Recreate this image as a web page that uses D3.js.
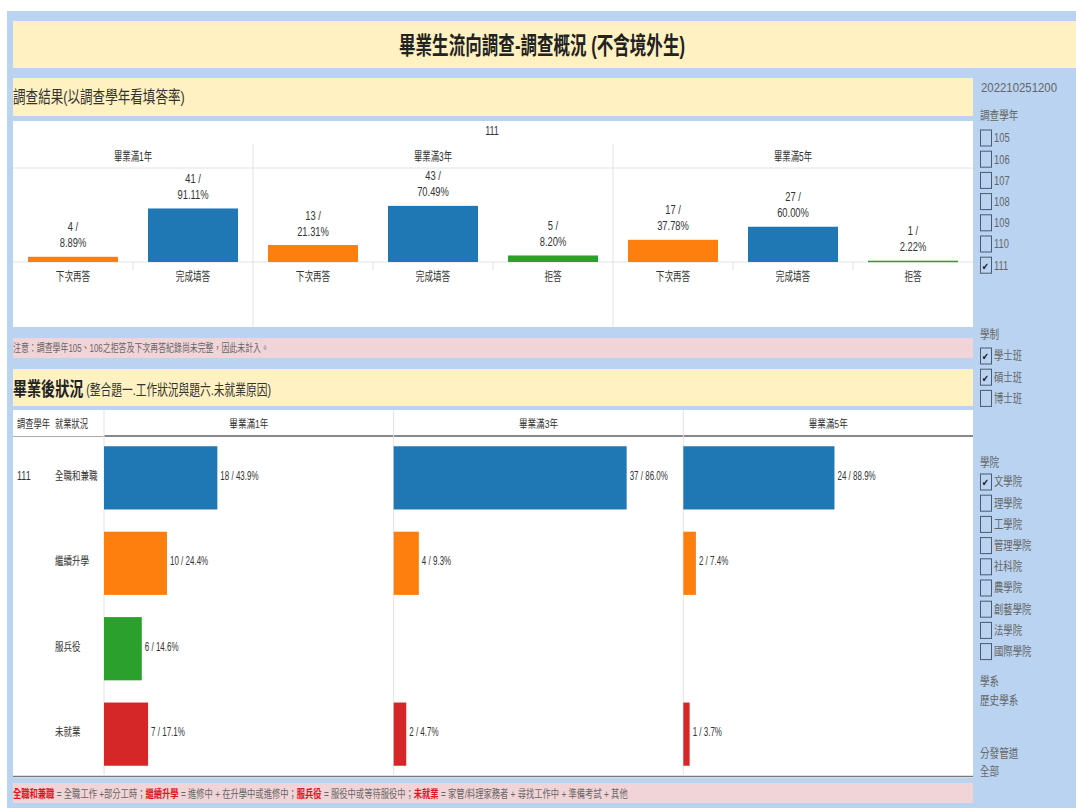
<!DOCTYPE html>
<html><head><meta charset="utf-8">
<script src="https://cdn.jsdelivr.net/npm/d3@7"></script>
<style>body{margin:0;background:#fff}svg{display:block}</style>
</head><body><div id="chart"></div>
<script>
// ---------- data ----------
const pageTitle = "畢業生流向調查-調查概況 (不含境外生)";
const section1Title = "調查結果(以調查學年看填答率)";
const section2Bold = "畢業後狀況";
const section2Rest = " (整合題一.工作狀況與題六.未就業原因)";
const noteText = "注意：調查學年105、106之拒答及下次再答紀錄尚未完整，因此未計入。";
const surveyYear = "111";
const periods = ["畢業滿1年", "畢業滿3年", "畢業滿5年"];
const responseCats = ["下次再答", "完成填答", "拒答"];
// response counts / pct per period (period 1 has no 拒答)
const respCats1 = ["下次再答", "完成填答"];
const respCounts1 = [4, 41];
const respPct1 = ["8.89%", "91.11%"];
const respCats3 = ["下次再答", "完成填答", "拒答"];
const respCounts3 = [13, 43, 5];
const respPct3 = ["21.31%", "70.49%", "8.20%"];
const respCats5 = ["下次再答", "完成填答", "拒答"];
const respCounts5 = [17, 27, 1];
const respPct5 = ["37.78%", "60.00%", "2.22%"];

const statuses = ["全職和兼職", "繼續升學", "服兵役", "未就業"];
const empCounts1 = [18, 10, 6, 7];
const empPct1 = ["43.9%", "24.4%", "14.6%", "17.1%"];
const empCounts3 = [37, 4, null, 2];
const empPct3 = ["86.0%", "9.3%", null, "4.7%"];
const empCounts5 = [24, 2, null, 1];
const empPct5 = ["88.9%", "7.4%", null, "3.7%"];

const footerParts = [
  ["全職和兼職", true], [" = 全職工作 +部分工時；", false],
  ["繼續升學", true], [" = 進修中 + 在升學中或進修中；", false],
  ["服兵役", true], [" = 服役中或等待服役中；", false],
  ["未就業", true], [" = 家管/料理家務者 +  尋找工作中 + 準備考試 + 其他", false]
];

const stamp = "202210251200";
const yearFilterTitle = "調查學年";
const yearOptions = ["105", "106", "107", "108", "109", "110", "111"];
const yearChecked = ["111"];
const degreeTitle = "學制";
const degreeOptions = ["學士班", "碩士班", "博士班"];
const degreeChecked = ["學士班", "碩士班"];
const collegeTitle = "學院";
const collegeOptions = ["文學院", "理學院", "工學院", "管理學院", "社科院", "農學院", "創藝學院", "法學院", "國際學院"];
const collegeChecked = ["文學院"];
const deptTitle = "學系";
const deptValue = "歷史學系";
const channelTitle = "分發管道";
const channelValue = "全部";

// ---------- styles ----------
const W = 1076, H = 808;
const C = {blue: "#1f77b4", orange: "#ff7f0e", green: "#2ca02c", red: "#d62728"};
const catColor = {"下次再答": C.orange, "完成填答": C.blue, "拒答": C.green};
const statusColor = {"全職和兼職": C.blue, "繼續升學": C.orange, "服兵役": C.green, "未就業": C.red};
const FONT = "'Liberation Sans','Noto Sans CJK TC',sans-serif";
const BG_BLUE = "#b9d3f1", YELLOW = "#fff1c1", PINK = "#f1d4d8";

const svg = d3.select("#chart").append("svg").attr("width", W).attr("height", H)
  .style("font-family", FONT);

function T(parent, x, y, s, o = {}) {
  const g = parent.append("g").attr("transform", `translate(${x},${y}) scale(${o.sx ?? 0.8},1)`);
  return g.append("text")
    .attr("font-size", o.size ?? 12)
    .attr("text-anchor", o.anchor ?? "start")
    .attr("dominant-baseline", "central")
    .attr("font-weight", o.weight ?? "normal")
    .attr("fill", o.fill ?? "#444")
    .text(s);
}

svg.append("rect").attr("width", W).attr("height", H).attr("fill", "#fff");
svg.append("rect").attr("x", 7).attr("y", 11).attr("width", W - 7).attr("height", H - 11).attr("fill", BG_BLUE);

// Title
svg.append("rect").attr("x", 13).attr("y", 21).attr("width", W - 13).attr("height", 47).attr("fill", YELLOW);
T(svg, 542, 45, pageTitle, {size: 24, sx: 0.69, anchor: "middle", fill: "#222", weight: "bold"});

// Section 1 header
svg.append("rect").attr("x", 13).attr("y", 78).attr("width", 960).attr("height", 38).attr("fill", YELLOW);
T(svg, 13, 97, section1Title, {size: 17, sx: 0.74, fill: "#333"});

// ---------- Top chart ----------
const topG = svg.append("g");
topG.append("rect").attr("x", 13).attr("y", 121).attr("width", 960).attr("height", 206).attr("fill", "#fff");
T(topG, 492, 130, surveyYear, {size: 12, sx: 0.75, anchor: "middle", fill: "#333"});

const respData = [
  {period: periods[0], cats: respCats1, counts: respCounts1, pct: respPct1},
  {period: periods[1], cats: respCats3, counts: respCounts3, pct: respPct3},
  {period: periods[2], cats: respCats5, counts: respCounts5, pct: respPct5}
];
const slots = [];
respData.forEach(p => p.cats.forEach((c, i) => slots.push({period: p.period, cat: c, count: p.counts[i], pct: p.pct[i], key: p.period + "|" + c})));
const xTop = d3.scaleBand().domain(slots.map(d => d.key)).range([13, 973]).paddingInner(0.25).paddingOuter(0.125);
const step = xTop.step();
const yTop = d3.scaleLinear().domain([0, 72]).range([262, 168]);

const grid = "#e2e2e2";
topG.append("line").attr("x1", 13).attr("x2", 973).attr("y1", 168).attr("y2", 168).attr("stroke", grid);
topG.append("line").attr("x1", 13).attr("x2", 973).attr("y1", yTop(0)).attr("y2", yTop(0)).attr("stroke", grid);
// period dividers + headers
respData.forEach((p, pi) => {
  const first = slots.find(s => s.period === p.period);
  const last = slots.filter(s => s.period === p.period).pop();
  const x0 = xTop(first.key) - step * 0.125, x1 = xTop(last.key) + xTop.bandwidth() + step * 0.125;
  T(topG, (x0 + x1) / 2, 157, p.period, {size: 12, sx: 0.7, anchor: "middle", fill: "#333"});
  if (pi > 0) topG.append("line").attr("x1", x0).attr("x2", x0).attr("y1", 144).attr("y2", 327).attr("stroke", grid);
  p.cats.forEach((c, i) => {
    if (i > 0) {
      const xs = xTop(p.period + "|" + c) - step * 0.125;
      topG.append("line").attr("x1", xs).attr("x2", xs).attr("y1", yTop(0)).attr("y2", yTop(0) + 8).attr("stroke", grid);
    }
  });
});
topG.selectAll("rect.rb").data(slots).join("rect").attr("class", "rb")
  .attr("x", d => xTop(d.key)).attr("width", xTop.bandwidth())
  .attr("y", d => yTop(d.count)).attr("height", d => Math.max(1.5, yTop(0) - yTop(d.count)))
  .attr("fill", d => catColor[d.cat]);
slots.forEach(d => {
  const cx = xTop(d.key) + xTop.bandwidth() / 2;
  const ty = Math.min(yTop(d.count), yTop(0) - 1.5);
  T(topG, cx, ty - 30, d.count + " /", {size: 13, sx: 0.72, anchor: "middle", fill: "#333"});
  T(topG, cx, ty - 14, d.pct, {size: 13, sx: 0.72, anchor: "middle", fill: "#333"});
  T(topG, cx, 277, d.cat, {size: 12, sx: 0.72, anchor: "middle", fill: "#333"});
});

// Note
svg.append("rect").attr("x", 13).attr("y", 338).attr("width", 960).attr("height", 20).attr("fill", PINK);
T(svg, 13, 348, noteText, {size: 11, sx: 0.72, fill: "#666"});

// Section 2 header
svg.append("rect").attr("x", 13).attr("y", 369).attr("width", 960).attr("height", 37).attr("fill", YELLOW);
const s2 = svg.append("g").attr("transform", "translate(13,389) scale(0.74,1)")
  .append("text").attr("dominant-baseline", "central").attr("fill", "#333");
s2.append("tspan").attr("font-size", 19).attr("font-weight", "bold").attr("fill", "#222").text(section2Bold);
s2.append("tspan").attr("font-size", 14.5).text(section2Rest);

// ---------- Bottom chart ----------
const bot = svg.append("g");
bot.append("rect").attr("x", 13).attr("y", 410).attr("width", 960).attr("height", 368).attr("fill", "#fff");
const panels = [
  {period: periods[0], counts: empCounts1, pct: empPct1},
  {period: periods[1], counts: empCounts3, pct: empPct3},
  {period: periods[2], counts: empCounts5, pct: empPct5}
];
const xPanel = d3.scaleBand().domain(periods).range([104, 973]);
const yBot = d3.scaleBand().domain(statuses).range([436, 776]).paddingInner(0.26).paddingOuter(0.12);
const xBot = d3.scaleLinear().domain([0, 46]).range([0, xPanel.bandwidth()]);

T(bot, 17, 424, "調查學年", {size: 11, sx: 0.75, fill: "#333"});
T(bot, 55, 424, "就業狀況", {size: 11, sx: 0.75, fill: "#333"});
bot.append("line").attr("x1", 13).attr("x2", 104).attr("y1", 436.5).attr("y2", 436.5).attr("stroke", "#aaa");
bot.append("line").attr("x1", 104).attr("x2", 973).attr("y1", 436).attr("y2", 436).attr("stroke", "#888").attr("stroke-width", 2);
bot.append("line").attr("x1", 13).attr("x2", 973).attr("y1", 776.5).attr("y2", 776.5).attr("stroke", "#777").attr("stroke-width", 1.5);
panels.forEach(p => {
  const x0 = xPanel(p.period);
  bot.append("line").attr("x1", x0).attr("x2", x0).attr("y1", 410).attr("y2", 776).attr("stroke", grid);
  T(bot, x0 + xPanel.bandwidth() / 2, 424, p.period, {size: 11, sx: 0.78, anchor: "middle", fill: "#333"});
  const rows = statuses.map((s, i) => ({s, c: p.counts[i], pct: p.pct[i]})).filter(d => d.c != null);
  bot.append("g").selectAll("rect").data(rows).join("rect")
    .attr("x", x0).attr("y", d => yBot(d.s)).attr("height", yBot.bandwidth())
    .attr("width", d => xBot(d.c)).attr("fill", d => statusColor[d.s]);
  rows.forEach(d => {
    T(bot, x0 + xBot(d.c) + 3, yBot(d.s) + yBot.bandwidth() / 2 - 2, d.c + " / " + d.pct, {size: 12.5, sx: 0.64, fill: "#333"});
  });
});
T(bot, 17, yBot(statuses[0]) + yBot.bandwidth() / 2 - 2, surveyYear, {size: 12, sx: 0.75, fill: "#333"});
statuses.forEach(s => T(bot, 55, yBot(s) + yBot.bandwidth() / 2 - 2, s, {size: 11.5, sx: 0.74, fill: "#333"}));

// Footer
svg.append("rect").attr("x", 13).attr("y", 783).attr("width", 960).attr("height", 20).attr("fill", PINK);
const ft = svg.append("g").attr("transform", "translate(13,793) scale(0.72,1)")
  .append("text").attr("dominant-baseline", "central").attr("font-size", 11.5);
footerParts.forEach(([t, red]) => ft.append("tspan").attr("fill", red ? "#e0141e" : "#666").attr("font-weight", red ? "bold" : "normal").text(t));

// ---------- Sidebar ----------
const side = svg.append("g");
T(side, 981, 87, stamp, {size: 12, sx: 0.95, fill: "#666"});
function filterList(title, titleY, options, checked, startY) {
  T(side, 980, titleY, title, {size: 12, sx: 0.8, fill: "#666"});
  options.forEach((o, i) => {
    const cy = startY + i * 21.2;
    side.append("rect").attr("x", 980.5).attr("y", cy - 8).attr("width", 11).attr("height", 16)
      .attr("fill", "none").attr("stroke", "#4a5a70").attr("stroke-width", 1);
    if (checked.includes(o)) T(side, 986, cy + 1, "✔", {size: 10, sx: 0.8, anchor: "middle", fill: "#111"});
    T(side, 994, cy, o, {size: 12, sx: 0.78, fill: "#666"});
  });
}
filterList(yearFilterTitle, 116, yearOptions, yearChecked, 138);
filterList(degreeTitle, 335, degreeOptions, degreeChecked, 356);
filterList(collegeTitle, 463, collegeOptions, collegeChecked, 482);
T(side, 980, 682, deptTitle, {size: 12, sx: 0.8, fill: "#666"});
T(side, 980, 701, deptValue, {size: 12, sx: 0.8, fill: "#666"});
T(side, 980, 754, channelTitle, {size: 12, sx: 0.8, fill: "#666"});
T(side, 980, 772, channelValue, {size: 12, sx: 0.8, fill: "#666"});
</script></body></html>
